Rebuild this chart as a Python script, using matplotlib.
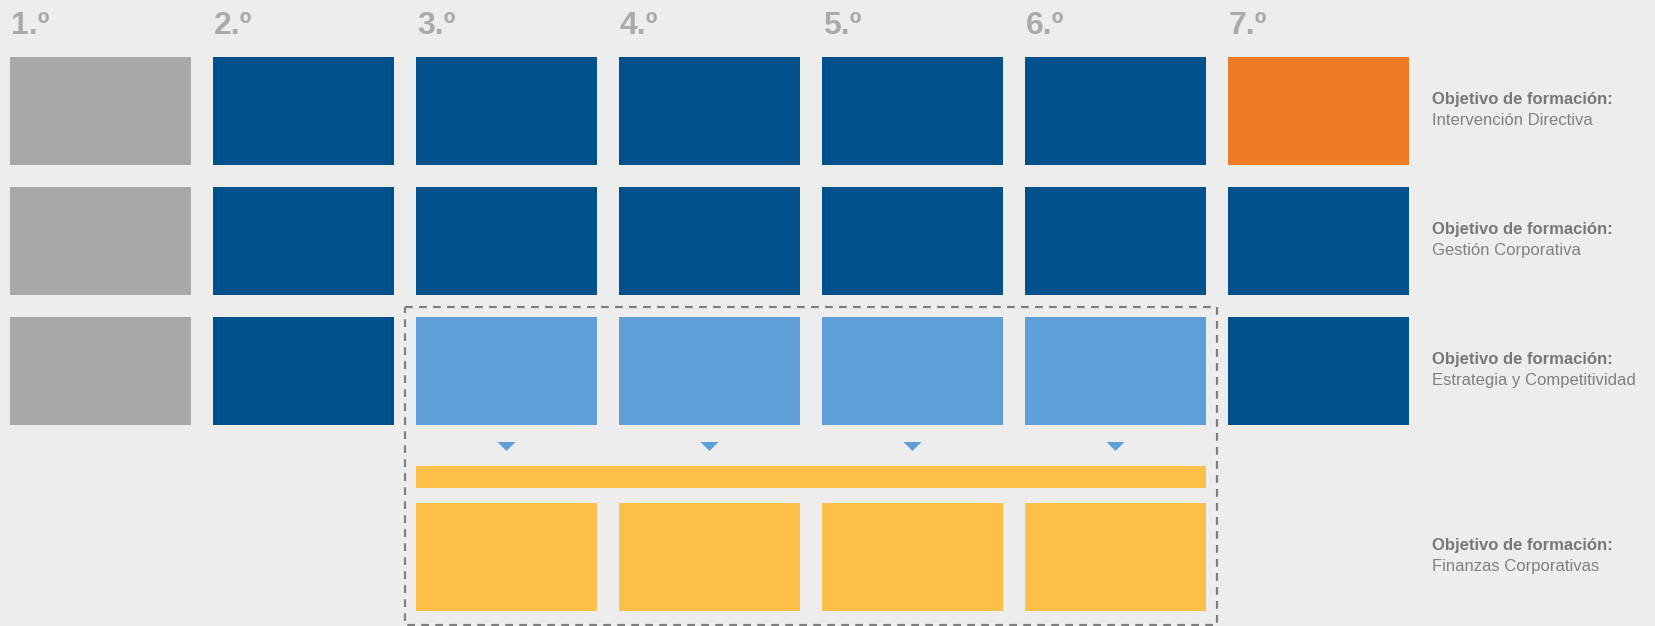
import matplotlib
matplotlib.use("Agg")
import matplotlib.pyplot as plt
from matplotlib.patches import Rectangle, Polygon

# course headers
years = ["1.º", "2.º", "3.º", "4.º", "5.º", "6.º", "7.º"]

# colour code per course for each training objective row
# g = common (grey), d = dark blue, o = orange, l = light blue, y = yellow, None = empty
rows = [
    ["g", "d", "d", "d", "d", "d", "o"],
    ["g", "d", "d", "d", "d", "d", "d"],
    ["g", "d", "l", "l", "l", "l", "d"],
    [None, None, "y", "y", "y", "y", None],
]
row_labels = [
    "Intervención Directiva",
    "Gestión Corporativa",
    "Estrategia y Competitividad",
    "Finanzas Corporativas",
]
label_title = "Objetivo de formación:"

# courses linked (arrow + bar) between row 3 and the finance row
linked = [2, 3, 4, 5]

colors = {"g": "#a8a8a9", "d": "#00508b", "o": "#ef7b24",
          "l": "#5e9fd7", "y": "#fcc049"}
bg = "#ededed"

W, H = 1655, 626
fig = plt.figure(figsize=(W / 100, H / 100), dpi=100, facecolor=bg)
ax = fig.add_axes([0, 0, 1, 1])
ax.set_xlim(0, W)
ax.set_ylim(H, 0)
ax.axis("off")
ax.set_facecolor(bg)

x0, pitch, bw = 10, 203, 181
row_top = [57, 187, 317, 503]
bh = 108

plt.rcParams["font.family"] = ["Liberation Sans", "DejaVu Sans"]

for i, yr in enumerate(years):
    ax.text(x0 + pitch * i + 1, 34, yr, fontsize=23, fontweight="bold",
            color="#aaaaaa", va="baseline", ha="left")

for r, row in enumerate(rows):
    for c, code in enumerate(row):
        if code is None:
            continue
        ax.add_patch(Rectangle((x0 + pitch * c, row_top[r]), bw, bh,
                               facecolor=colors[code], edgecolor="none"))
    yc = row_top[r] + bh / 2
    ax.text(1432, yc - 7, label_title, fontsize=12, fontweight="bold",
            color="#777777", va="baseline", ha="left")
    ax.text(1432, yc + 14, row_labels[r], fontsize=12,
            color="#808080", va="baseline", ha="left")

# small triangles under the light-blue boxes
for c in linked:
    cx = x0 + pitch * c + bw / 2
    ax.add_patch(Polygon([(cx - 9, 442), (cx + 9, 442), (cx, 451)],
                         closed=True, facecolor=colors["l"], edgecolor="none"))

# yellow connecting bar
bx0 = x0 + pitch * linked[0]
bx1 = x0 + pitch * linked[-1] + bw
ax.add_patch(Rectangle((bx0, 466), bx1 - bx0, 22,
                       facecolor=colors["y"], edgecolor="none"))

# dashed frame
ax.add_patch(Rectangle((bx0 - 11, 307), (bx1 - bx0) + 22, 318,
                       facecolor="none", edgecolor="#7f7f7f", linewidth=1.6,
                       linestyle=(0, (3.5, 2.8)), clip_on=False))

fig.savefig("out.png", dpi=100, facecolor=bg)
